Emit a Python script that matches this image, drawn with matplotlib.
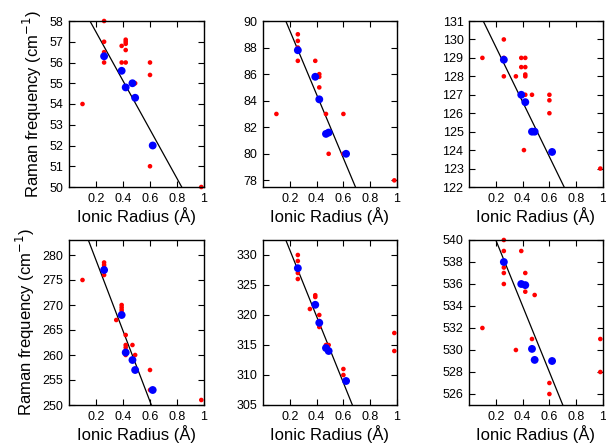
import numpy as np
import matplotlib
matplotlib.use("Agg")
import matplotlib.pyplot as plt

plt.rcParams['font.family'] = ['Liberation Sans', 'DejaVu Sans']

# panel 1 (top left)
red1_x = [0.26, 0.26, 0.26, 0.26, 0.10, 0.39, 0.42, 0.42, 0.42, 0.42, 0.39, 0.42, 0.49, 0.60, 0.60, 0.60, 0.98]
red1_y = [58.0, 57.0, 56.5, 56.0, 54.0, 56.8, 57.1, 57.0, 56.9, 56.6, 56.0, 56.0, 55.0, 56.0, 55.4, 51.0, 50.0]
blue1_x = [0.26, 0.39, 0.42, 0.47, 0.49, 0.62]
blue1_y = [56.3, 55.6, 54.8, 55.0, 54.3, 52.0]
fit1_x = [0.155, 0.835]
fit1_y = [58.0, 50.0]

# panel 2 (top middle)
red2_x = [0.26, 0.26, 0.26, 0.26, 0.10, 0.39, 0.42, 0.42, 0.42, 0.47, 0.49, 0.60, 0.60, 0.98]
red2_y = [89.0, 88.5, 88.0, 87.0, 83.0, 87.0, 86.0, 85.8, 85.0, 83.0, 80.0, 83.0, 80.0, 78.0]
blue2_x = [0.26, 0.39, 0.42, 0.47, 0.49, 0.62]
blue2_y = [87.8, 85.8, 84.1, 81.5, 81.6, 80.0]
fit2_x = [0.17, 0.69]
fit2_y = [90.0, 77.5]

# panel 3 (top right)
red3_x = [0.26, 0.10, 0.26, 0.26, 0.35, 0.39, 0.42, 0.39, 0.42, 0.42, 0.42, 0.42, 0.47, 0.60, 0.60, 0.60, 0.41, 0.98]
red3_y = [130.0, 129.0, 129.0, 128.0, 128.0, 129.0, 129.0, 128.5, 128.5, 128.1, 128.0, 127.0, 127.0, 127.0, 126.7, 126.0, 124.0, 123.0]
blue3_x = [0.26, 0.39, 0.42, 0.47, 0.49, 0.62]
blue3_y = [128.9, 127.0, 126.6, 125.0, 125.0, 123.9]
fit3_x = [0.106, 0.71]
fit3_y = [131.0, 122.0]

# panel 4 (bottom left)
red4_x = [0.26, 0.26, 0.26, 0.26, 0.10, 0.39, 0.39, 0.39, 0.39, 0.35, 0.42, 0.42, 0.42, 0.42, 0.47, 0.49, 0.60, 0.60, 0.98]
red4_y = [278.5, 278.0, 277.5, 276.0, 275.0, 270.0, 269.5, 269.0, 268.5, 267.0, 264.0, 262.0, 261.5, 260.0, 262.0, 260.0, 257.0, 253.0, 251.0]
blue4_x = [0.26, 0.39, 0.42, 0.47, 0.49, 0.62]
blue4_y = [277.0, 268.0, 260.5, 259.0, 257.0, 253.0]
fit4_x = [0.143, 0.61]
fit4_y = [283.0, 250.0]

# panel 5 (bottom middle)
red5_x = [0.26, 0.26, 0.26, 0.26, 0.39, 0.39, 0.35, 0.42, 0.42, 0.42, 0.47, 0.49, 0.60, 0.60, 0.98, 0.98]
red5_y = [330.0, 329.0, 327.0, 326.0, 323.3, 323.0, 321.0, 320.0, 319.0, 318.0, 315.0, 315.0, 311.0, 310.0, 317.0, 314.0]
blue5_x = [0.26, 0.39, 0.42, 0.47, 0.49, 0.62]
blue5_y = [327.8, 321.7, 318.7, 314.5, 314.0, 309.0]
fit5_x = [0.17, 0.667]
fit5_y = [332.5, 305.0]

# panel 6 (bottom right)
red6_x = [0.26, 0.26, 0.39, 0.26, 0.26, 0.42, 0.26, 0.42, 0.49, 0.10, 0.47, 0.35, 0.60, 0.60, 0.98, 0.98]
red6_y = [540.0, 539.0, 539.0, 537.5, 537.0, 537.0, 536.0, 535.3, 535.0, 532.0, 531.0, 530.0, 527.0, 526.0, 531.0, 528.0]
blue6_x = [0.26, 0.39, 0.42, 0.47, 0.49, 0.62]
blue6_y = [538.0, 536.0, 535.9, 530.1, 529.1, 529.0]
fit6_x = [0.20, 0.70]
fit6_y = [540.0, 525.0]

ylims = [(50, 58), (77.5, 90), (122, 131), (250, 283), (305, 332.5), (525, 540)]
yticks = [np.arange(50, 58.1, 1), np.arange(78, 90.1, 2), np.arange(122, 131.1, 1),
          np.arange(250, 281, 5), np.arange(305, 331, 5), np.arange(526, 541, 2)]
xticks = [0.2, 0.4, 0.6, 0.8, 1.0]
xticklabels = ['0.2', '0.4', '0.6', '0.8', '1']

reds = [(red1_x, red1_y), (red2_x, red2_y), (red3_x, red3_y),
        (red4_x, red4_y), (red5_x, red5_y), (red6_x, red6_y)]
blues = [(blue1_x, blue1_y), (blue2_x, blue2_y), (blue3_x, blue3_y),
         (blue4_x, blue4_y), (blue5_x, blue5_y), (blue6_x, blue6_y)]
fits = [(fit1_x, fit1_y), (fit2_x, fit2_y), (fit3_x, fit3_y),
        (fit4_x, fit4_y), (fit5_x, fit5_y), (fit6_x, fit6_y)]

fig = plt.figure(figsize=(6.06, 4.45), dpi=100)
W, H = 606.0, 445.0
lefts = [69, 263, 469]
widths = [135, 134, 134]
rows = [(21, 187), (240, 405)]

for i in range(6):
    r, c = divmod(i, 3)
    top, bot = rows[r]
    ax = fig.add_axes([lefts[c] / W, 1 - bot / H, widths[c] / W, (bot - top) / H])
    fx, fy = fits[i]
    ax.plot(fx, fy, color='black', lw=0.9, zorder=1)
    rx, ry = reds[i]
    ax.scatter(rx, ry, s=11, color='#ff0000', edgecolors='none', zorder=2, clip_on=False)
    bx, by = blues[i]
    ax.scatter(bx, by, s=32, color='#0000ff', edgecolors='none', zorder=3, clip_on=False)
    ax.set_xlim(0, 1)
    ax.set_ylim(*ylims[i])
    ax.set_xticks(xticks)
    ax.set_xticklabels(xticklabels)
    ax.set_yticks(yticks[i])
    ax.set_yticklabels(['%g' % v for v in yticks[i]])
    ax.tick_params(direction='in', top=True, right=True, length=4, width=0.8,
                   labelsize=9, pad=4)
    for s in ax.spines.values():
        s.set_linewidth(1.0)
    ax.set_xlabel('Ionic Radius (Å)', fontsize=12, labelpad=2)
    if c == 0:
        ax.set_ylabel('Raman frequency (cm$^{-1}$)', fontsize=12, labelpad=4)

fig.savefig('out.png', dpi=100)
